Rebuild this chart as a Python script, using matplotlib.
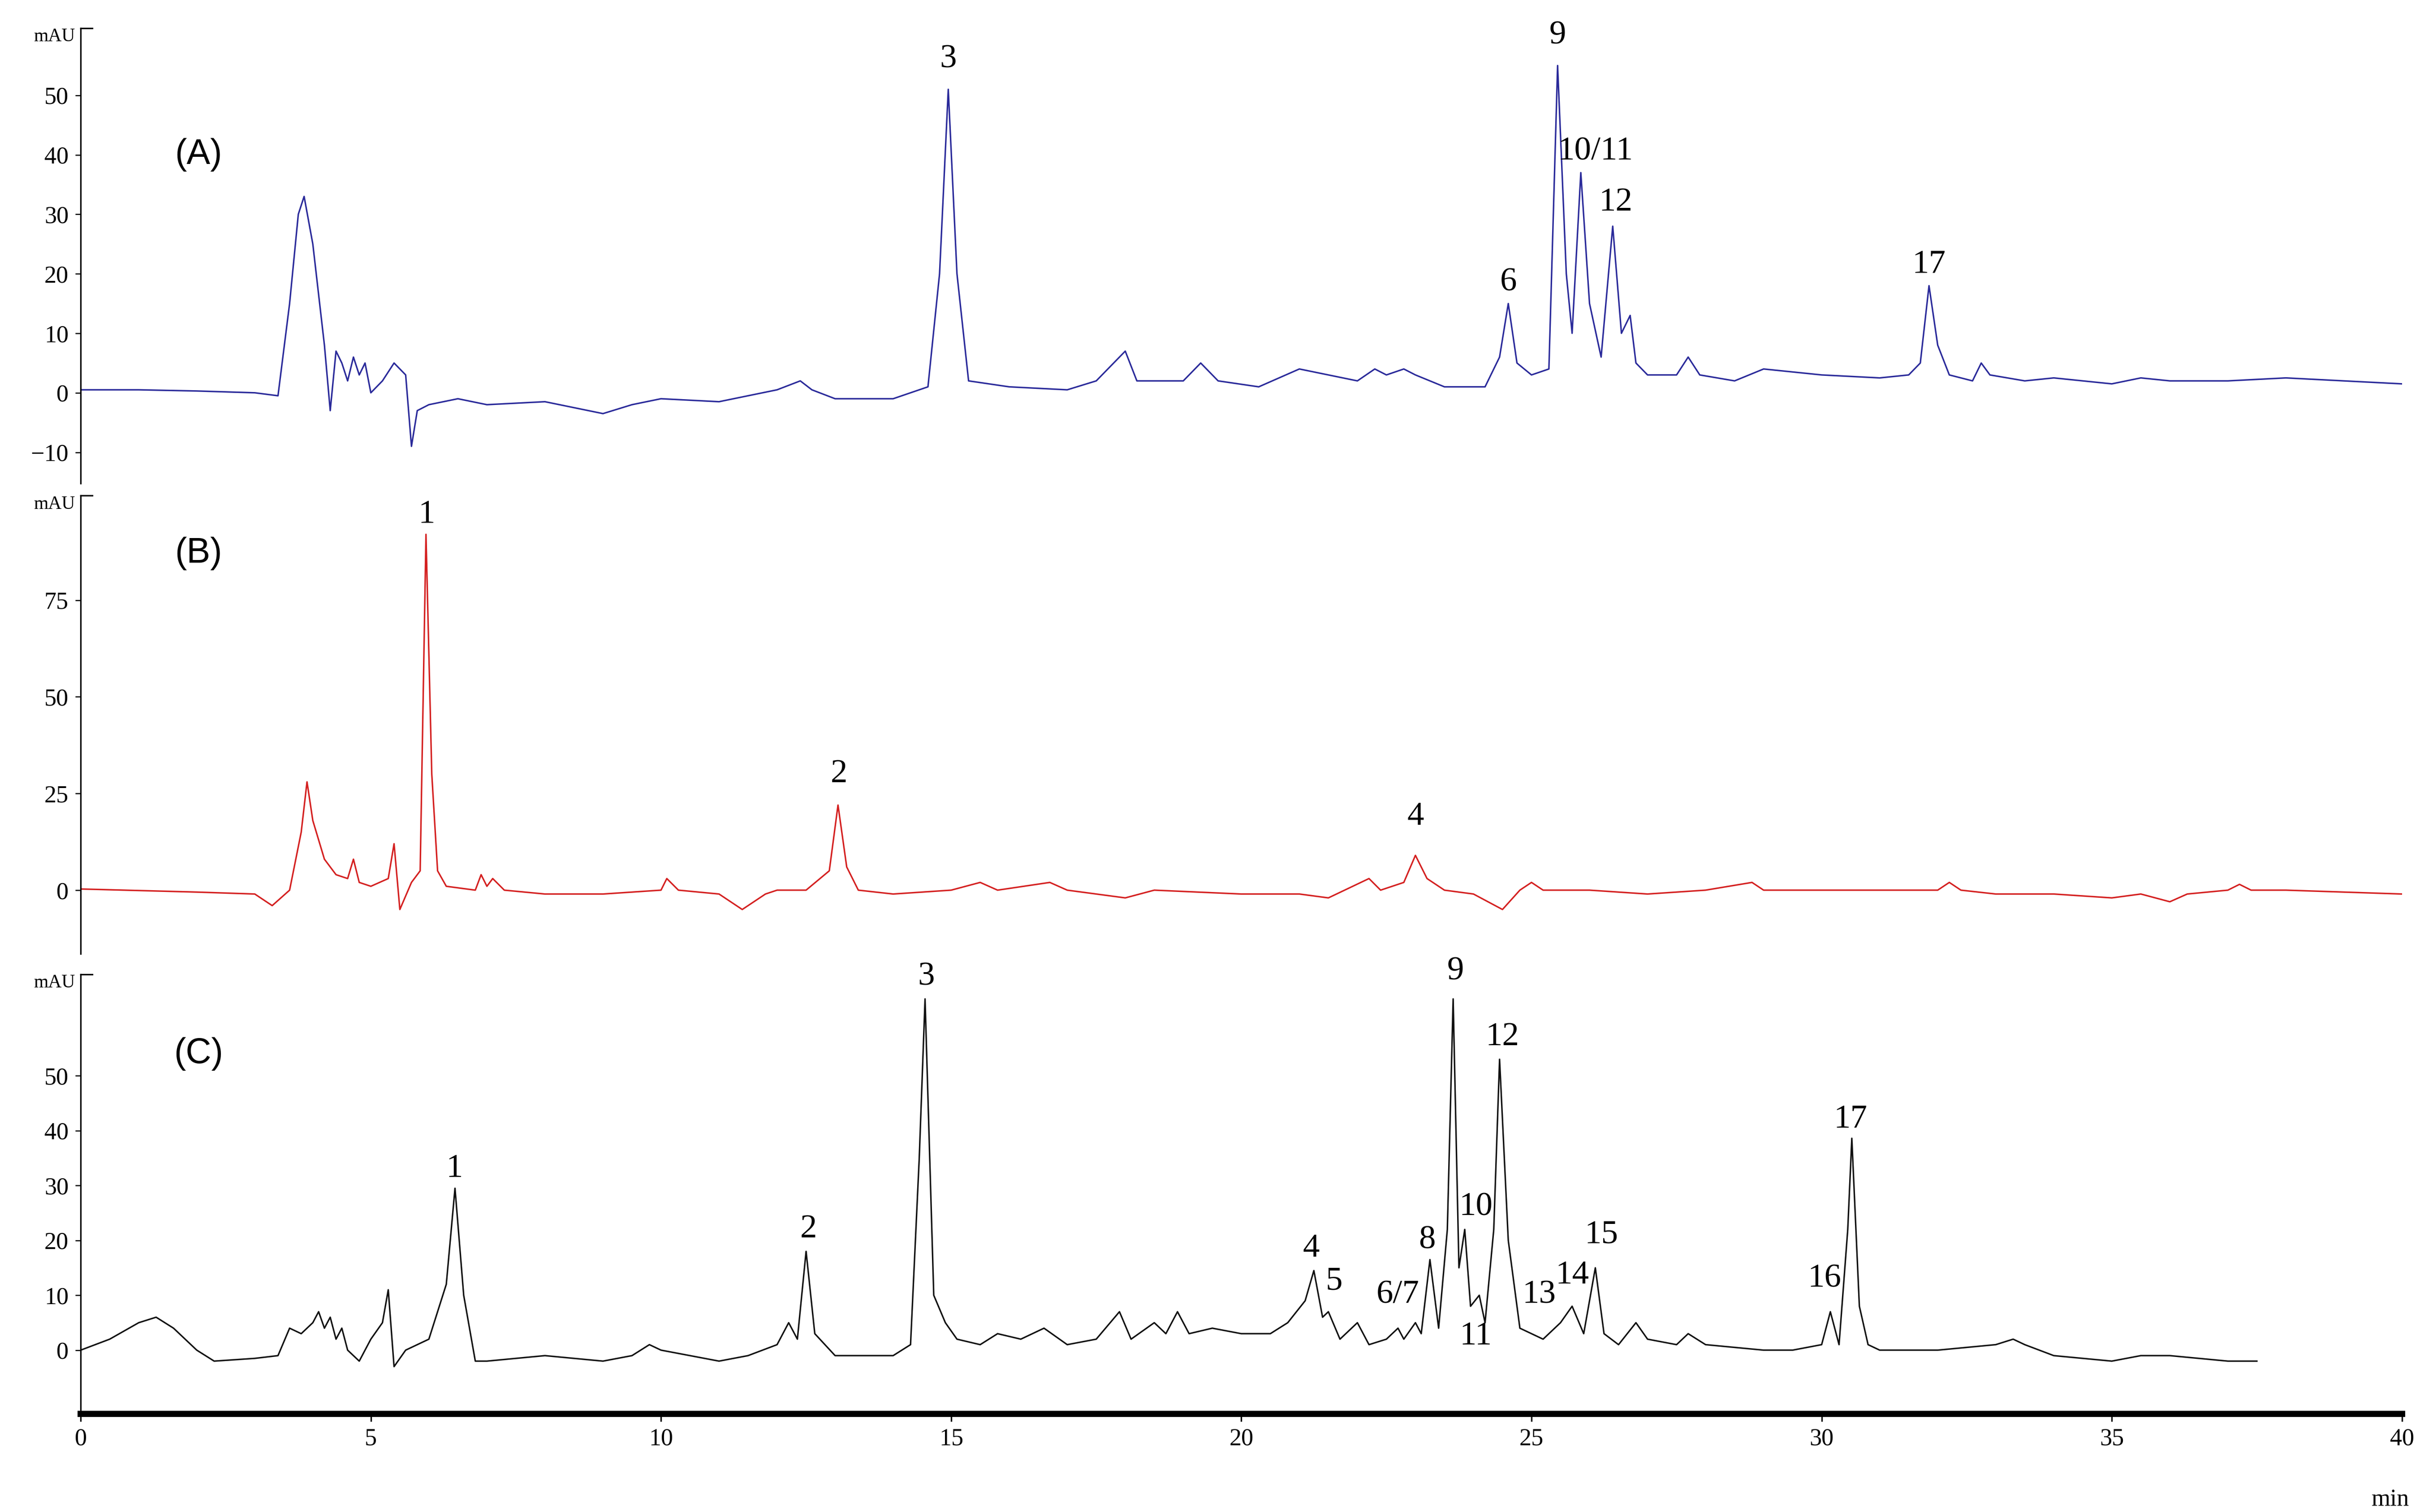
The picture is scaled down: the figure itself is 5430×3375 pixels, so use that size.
import matplotlib
matplotlib.use("Agg")
import matplotlib.pyplot as plt

# Trace A (blue)
a_t = [0,1,2,3,3.4,3.6,3.75,3.85,4.0,4.2,4.3,4.4,4.5,4.6,4.7,4.8,4.9,5.0,5.2,5.4,5.6,5.7,5.8,6,6.5,7,8,9,9.5,10,11,12,12.4,12.6,13,14,14.6,14.8,14.95,15.1,15.3,16,17,17.5,18,18.2,19,19.3,19.6,20.3,21,21.5,22,22.3,22.5,22.8,23,23.5,24,24.2,24.45,24.6,24.75,25,25.3,25.45,25.6,25.7,25.85,26,26.2,26.4,26.55,26.7,26.8,27,27.5,27.7,27.9,28.5,29,30,31,31.5,31.7,31.85,32.0,32.2,32.6,32.75,32.9,33.5,34,35,35.5,36,37,38,39,40]
a_y = [0.5,0.5,0.3,0,-0.5,15,30,33,25,8,-3,7,5,2,6,3,5,0,2,5,3,-9,-3,-2,-1,-2,-1.5,-3.5,-2,-1,-1.5,0.5,2,0.5,-1,-1,1,20,51,20,2,1,0.5,2,7,2,2,5,2,1,4,3,2,4,3,4,3,1,1,1,6,15,5,3,4,55,20,10,37,15,6,28,10,13,5,3,3,6,3,2,4,3,2.5,3,5,18,8,3,2,5,3,2,2.5,1.5,2.5,2,2,2.5,2,1.5]
# Trace B (red)
b_t = [0,2,3,3.3,3.6,3.8,3.9,4.0,4.2,4.4,4.6,4.7,4.8,5,5.3,5.4,5.5,5.7,5.85,5.95,6.05,6.15,6.3,6.8,6.9,7.0,7.1,7.3,8,9,10,10.1,10.3,11,11.4,11.8,12,12.5,12.9,13.05,13.2,13.4,14,15,15.5,15.8,16.7,17,18,18.5,20,21,21.5,22.2,22.4,22.8,23.0,23.2,23.5,24,24.5,24.8,25,25.2,26,27,28,28.8,29,30,31,32,32.2,32.4,33,34,35,35.5,36,36.3,37,37.2,37.4,38,40]
b_y = [0.3,-0.5,-1,-4,0,15,28,18,8,4,3,8,2,1,3,12,-5,2,5,92,30,5,1,0,4,1,3,0,-1,-1,0,3,0,-1,-5,-1,0,0,5,22,6,0,-1,0,2,0,2,0,-2,0,-1,-1,-2,3,0,2,9,3,0,-1,-5,0,2,0,0,-1,0,2,0,0,0,0,2,0,-1,-1,-2,-1,-3,-1,0,1.5,0,0,-1]
# Trace C (black)
c_t = [0,0.5,1,1.3,1.6,2,2.3,3,3.4,3.6,3.8,4,4.1,4.2,4.3,4.4,4.5,4.6,4.8,5.0,5.2,5.3,5.4,5.6,6.0,6.3,6.45,6.6,6.8,7,8,9,9.5,9.8,10,11,11.5,12,12.2,12.35,12.5,12.65,13,14,14.3,14.45,14.55,14.7,14.9,15.1,15.5,15.8,16.2,16.6,17,17.5,17.9,18.1,18.5,18.7,18.9,19.1,19.5,20,20.5,20.8,21.1,21.25,21.4,21.5,21.7,22,22.2,22.5,22.7,22.8,23.0,23.1,23.25,23.4,23.55,23.65,23.75,23.85,23.95,24.1,24.2,24.35,24.45,24.6,24.8,25.2,25.5,25.7,25.9,26.1,26.25,26.5,26.8,27,27.5,27.7,28,29,29.5,30,30.15,30.3,30.45,30.52,30.65,30.8,31,32,33,33.3,33.5,34,35,35.5,36,37,37.5]
c_y = [0,2,5,6,4,0,-2,-1.5,-1,4,3,5,7,4,6,2,4,0,-2,2,5,11,-3,0,2,12,29.5,10,-2,-2,-1,-2,-1,1,0,-2,-1,1,5,2,18,3,-1,-1,1,35,64,10,5,2,1,3,2,4,1,2,7,2,5,3,7,3,4,3,3,5,9,14.5,6,7,2,5,1,2,4,2,5,3,16.5,4,22,64,15,22,8,10,5,22,53,20,4,2,5,8,3,15,3,1,5,2,1,3,1,0,0,1,7,1,22,38.6,8,1,0,0,1,2,1,-1,-2,-1,-1,-2,-2]

a_labels = [("3",14.95,56),("9",25.45,60),("10/11",26.1,40.5),("12",26.45,32),("6",24.6,18.5),("17",31.85,21.5)]
b_labels = [("1",5.96,97),("2",13.07,30),("4",23.0,19)]
c_labels = [("1",6.44,33),("2",12.54,22),("3",14.57,68),("9",23.69,69),("12",24.5,57),("17",30.5,42),
            ("10",24.04,26),("8",23.2,20),("4",21.2,18.5),("5",21.6,12.5),("6/7",22.7,10),("11",24.04,2.5),
            ("13",25.13,10),("14",25.7,13.6),("15",26.2,21),("16",30.05,13)]

W, H = 1568, 970
fig = plt.figure(figsize=(18.1, 11.25), dpi=300)
serif = "Liberation Serif"
x0, x1 = 52/W, 1548/W

panels = [
    (a_t, a_y, "#2a2a9a", (18, 310), (-15.2, 61.3), [-10,0,10,20,30,40,50], a_labels, "(A)", 40),
    (b_t, b_y, "#d42020", (318, 612), (-16.5, 102), [0,25,50,75], b_labels, "(B)", 87),
    (c_t, c_y, "#111111", (625, 907), (-11.6, 68.5), [0,10,20,30,40,50], c_labels, "(C)", 54),
]
for i, (t, y, col, (pt, pb), yl, yt, labs, name, ny) in enumerate(panels):
    ax = fig.add_axes([x0, 1 - pb/H, x1 - x0, (pb - pt)/H])
    ax.plot(t, y, color=col, lw=0.8)
    ax.set_xlim(0, 40)
    ax.set_ylim(*yl)
    ax.set_yticks(yt)
    ax.tick_params(axis='y', labelsize=13, length=3, width=0.6, direction='out')
    for lab in ax.get_yticklabels():
        lab.set_family(serif)
    for s in ['top', 'right']:
        ax.spines[s].set_visible(False)
    ax.spines['left'].set_linewidth(0.8)
    ax.plot([0, 0.2], [yl[1], yl[1]], color='black', lw=0.8, clip_on=False)
    ax.text(-0.1, yl[1], "mAU", family=serif, fontsize=10, ha='right', va='top')
    for s, xx, yy in labs:
        ax.text(xx, yy, s, family=serif, fontsize=18, ha='center', va='center', clip_on=False)
    ax.text(2.03, ny, name, family="Liberation Sans", fontsize=19, ha='center', va='center')
    if i < 2:
        ax.spines['bottom'].set_visible(False)
        ax.set_xticks([])
    else:
        ax.spines['bottom'].set_linewidth(3.3)
        ax.set_xticks(range(0, 41, 5))
        ax.tick_params(axis='x', labelsize=13, length=4, width=0.8)
        for lab in ax.get_xticklabels():
            lab.set_family(serif)
        ax.text(39.8, yl[0] - 0.17*(yl[1]-yl[0]), "min", family=serif, fontsize=13, ha='center', va='top')
    ax.patch.set_alpha(0)

fig.savefig("out.png", dpi=300)
